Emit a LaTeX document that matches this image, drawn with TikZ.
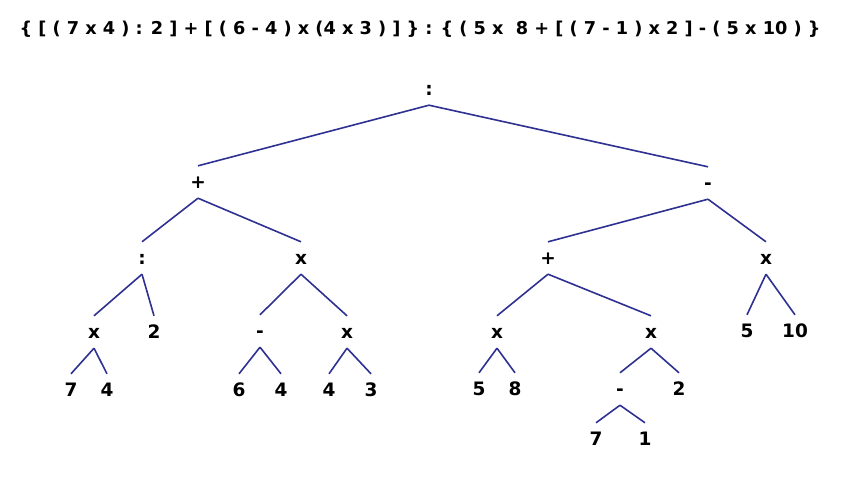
\documentclass[tikz,border=0pt]{standalone}
\usepackage{fontspec}
\setmainfont{DejaVu Sans}
\definecolor{treeblue}{RGB}{46,49,146}

\begin{document}
\begin{tikzpicture} [x=1pt,y=-1pt, sym/.style={inner sep=0pt,minimum height=32pt,text height=13pt,text depth=0pt,font=\fontsize{18.5}{20}\selectfont\bfseries}, branch/.style={line width=1.6pt,treeblue}]
		\useasboundingbox (0,0) rectangle (855,488);
		\node[sym,font=\fontsize{17.7}{20}\selectfont\bfseries] (T) at (420,28) {\{ [ ( 7 x 4 ) : 2 ] + [ ( 6 - 4 ) x (4 x 3 ) ] \} : \{ ( 5 x \ 8 + [ ( 7 - 1 ) x 2 ] - ( 5 x 10 ) \}};
		\node[sym] (A) at (429,89) {:};
		\node[sym] (B) at (198,182) {+};
		\node[sym] (C) at (708,183) {-};
		\node[sym] (D) at (142,258) {:};
		\node[sym] (E) at (301,258) {x};
		\node[sym] (F) at (548,258) {+};
		\node[sym] (G) at (766,258) {x};
		\node[sym] (H) at (94,332) {x};
		\node[sym] (I) at (154,332) {2};
		\node[sym] (J) at (260,331) {-};
		\node[sym] (K) at (347,332) {x};
		\node[sym] (L) at (497,332) {x};
		\node[sym] (M) at (651,332) {x};
		\node[sym] (N) at (747,331) {5};
		\node[sym] (O) at (795,331) {10};
		\node[sym] (P) at (71,390) {7};
		\node[sym] (Q) at (107,390) {4};
		\node[sym] (R) at (239,390) {6};
		\node[sym] (S) at (281,390) {4};
		\node[sym] (U) at (329,390) {4};
		\node[sym] (V) at (371,390) {3};
		\node[sym] (W) at (479,389) {5};
		\node[sym] (X) at (515,389) {8};
		\node[sym] (Y) at (620,389) {-};
		\node[sym] (Z) at (679,389) {2};
		\node[sym] (Y1) at (596,439) {7};
		\node[sym] (Y2) at (645,439) {1};
		\draw[branch] (A.south) -- (B.north);
		\draw[branch] (A.south) -- (C.north);
		\draw[branch] (B.south) -- (D.north);
		\draw[branch] (B.south) -- (E.north);
		\draw[branch] (C.south) -- (F.north);
		\draw[branch] (C.south) -- (G.north);
		\draw[branch] (D.south) -- (H.north);
		\draw[branch] (D.south) -- (I.north);
		\draw[branch] (E.south) -- (J.north);
		\draw[branch] (E.south) -- (K.north);
		\draw[branch] (F.south) -- (L.north);
		\draw[branch] (F.south) -- (M.north);
		\draw[branch] (G.south) -- (N.north);
		\draw[branch] (G.south) -- (O.north);
		\draw[branch] (H.south) -- (P.north);
		\draw[branch] (H.south) -- (Q.north);
		\draw[branch] (J.south) -- (R.north);
		\draw[branch] (J.south) -- (S.north);
		\draw[branch] (K.south) -- (U.north);
		\draw[branch] (K.south) -- (V.north);
		\draw[branch] (L.south) -- (W.north);
		\draw[branch] (L.south) -- (X.north);
		\draw[branch] (M.south) -- (Y.north);
		\draw[branch] (M.south) -- (Z.north);
		\draw[branch] (Y.south) -- (Y1.north);
		\draw[branch] (Y.south) -- (Y2.north);
		\end{tikzpicture}
\end{document}
